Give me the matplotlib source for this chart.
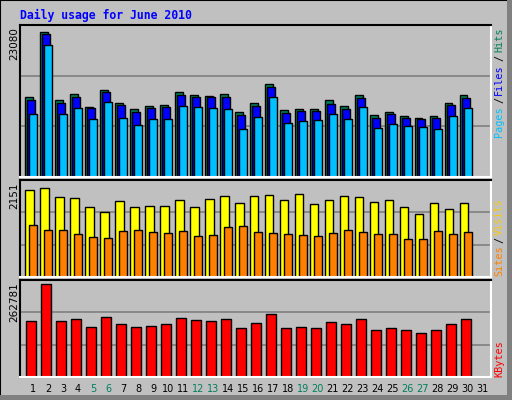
import numpy as np
import matplotlib
matplotlib.use("Agg")
import matplotlib.pyplot as plt
from matplotlib.patches import Rectangle

# Webalizer-style daily usage chart, June 2010
days = np.arange(1, 31)
day_labels = [str(d) for d in range(1, 32)]
weekend_days = [5, 6, 12, 13, 19, 20, 26, 27]

hits = [12296, 22390, 11840, 12751, 10778, 13358, 11385, 10474, 10930, 11081,
        13055, 12599, 12448, 12751, 10019, 11385, 14269, 10322, 10474, 10474,
        11840, 10930, 12599, 9563, 10019, 9412, 9108, 9412, 11385, 12599]
files = [11840, 22011, 11385, 12296, 10626, 13055, 11081, 10019, 10626, 10778,
         12599, 12296, 12296, 12296, 9563, 10930, 13814, 9867, 10171, 10171,
         11233, 10474, 12144, 9108, 9715, 9108, 8956, 9108, 11081, 12144]
pages = [9715, 20341, 9715, 10626, 8956, 11537, 9108, 8045, 8956, 8956,
         10930, 10778, 10626, 10474, 7438, 9260, 12296, 8349, 8653, 8804,
         9715, 8956, 10778, 7590, 8197, 7894, 7742, 7438, 9412, 10626]
sites = [1996, 2063, 1841, 1819, 1619, 1508, 1752, 1619, 1641, 1641,
         1774, 1619, 1797, 1863, 1708, 1863, 1885, 1774, 1907, 1686,
         1774, 1863, 1841, 1730, 1774, 1619, 1442, 1708, 1575, 1708]
visits = [1198, 1087, 1087, 998, 932, 909, 1065, 1087, 1042, 1020,
          1065, 954, 976, 1153, 1176, 1042, 1020, 998, 976, 954,
          1020, 1087, 1042, 998, 998, 865, 865, 1065, 998, 1042]
kbytes = [151704, 251937, 151704, 157122, 135450, 162540, 143577, 135450, 138159, 143577,
          159831, 154413, 151704, 157122, 132741, 146286, 170667, 132741, 135450, 132741,
          148995, 143577, 157122, 127323, 132741, 127323, 119196, 127323, 143577, 157122]

max_hits, max_sites, max_kb = 23080, 2151, 262781

W, H = 512, 400
BG = "#c0c0c0"
fig = plt.figure(figsize=(W / 100, H / 100), dpi=100, facecolor=BG)

def rect(x0, y0, x1, y1):
    # pixel box (top-left origin) -> figure fraction
    return [x0 / W, 1 - y1 / H, (x1 - x0) / W, (y1 - y0) / H]

# outer 3D border
fig.patches.append(Rectangle((0, 0), 1, 1, transform=fig.transFigure,
                             fill=False, ec="black", lw=1.5))
fig.patches.append(Rectangle((507 / W, 0), 5 / W, 1, transform=fig.transFigure,
                             fc="#808080", ec="none"))
fig.patches.append(Rectangle((0, 0), 1, 5 / H, transform=fig.transFigure,
                             fc="#808080", ec="none"))

xl = (0.13, 31.55)

def panel(y0, y1, top):
    ax = fig.add_axes(rect(20, y0, 491, y1))
    ax.set_facecolor(BG)
    ax.set_xlim(*xl)
    ax.set_ylim(0, top)
    for t in (top / 3, 2 * top / 3):
        ax.axhline(t, color="#808080", lw=1.2, zorder=0)
    ax.spines["top"].set_color("black")
    ax.spines["left"].set_color("black")
    ax.spines["right"].set_color("white")
    ax.spines["bottom"].set_color("white")
    for s in ax.spines.values():
        s.set_linewidth(1.5)
    ax.set_xticks([])
    ax.set_yticks([])
    return ax

bw = 0.52
ax1 = panel(25, 177, max_hits * 152 / 147.5 * 0.985)
ax1.bar(days - 0.54, hits, bw, align="edge", color="#00805c", ec="black", lw=1)
ax1.bar(days - 0.40, files, bw, align="edge", color="#0000ff", ec="black", lw=1)
ax1.bar(days - 0.27, pages, bw, align="edge", color="#00c0ff", ec="black", lw=1)

ax2 = panel(180, 277, max_sites * 1.04)
ax2.bar(days - 0.54, sites, 0.58, align="edge", color="#ffff00", ec="black", lw=1)
ax2.bar(days - 0.27, visits, 0.52, align="edge", color="#ff8000", ec="black", lw=1)

ax3 = panel(280, 377, max_kb * 1.0)
ax3.bar(days - 0.47, kbytes, 0.7, align="edge", color="#ff0000", ec="black", lw=1)

# day labels
for i, lab in enumerate(day_labels):
    d = i + 1
    col = "#00805c" if d in weekend_days else "black"
    ax3.text(d, -0.12, lab, transform=ax3.get_xaxis_transform(), ha="center",
             va="center", fontsize=7, color=col)

# max value labels on the left
fig.text(14 / W, 1 - 27 / H, "23080", rotation=90, ha="center", va="top", fontsize=7.5)
fig.text(14 / W, 1 - 182 / H, "2151", rotation=90, ha="center", va="top", fontsize=7.5)
fig.text(14 / W, 1 - 282 / H, "262781", rotation=90, ha="center", va="top", fontsize=7.5)

fig.text(20 / W, 1 - 15 / H, "Daily usage for June 2010", color="#0000ff",
         family="DejaVu Sans Mono", weight="bold", fontsize=8.3, va="center")

# right-hand legends
legend_bits = [("Hits", 40, "#00805c"), ("/", 58, "black"), ("Files", 80, "#0000ff"),
               ("/", 100, "black"), ("Pages", 122, "#00c0ff"),
               ("Visits", 217, "#ffcc00"), ("/", 240, "black"), ("Sites", 261, "#ff8000"),
               ("KBytes", 359, "#ff0000")]
for txt, yc, col in legend_bits:
    fig.text(499 / W, 1 - yc / H, txt, rotation=90, ha="center", va="center",
             color=col, family="DejaVu Sans Mono", fontsize=7.3)

fig.savefig("out.png", dpi=100, facecolor=BG)
